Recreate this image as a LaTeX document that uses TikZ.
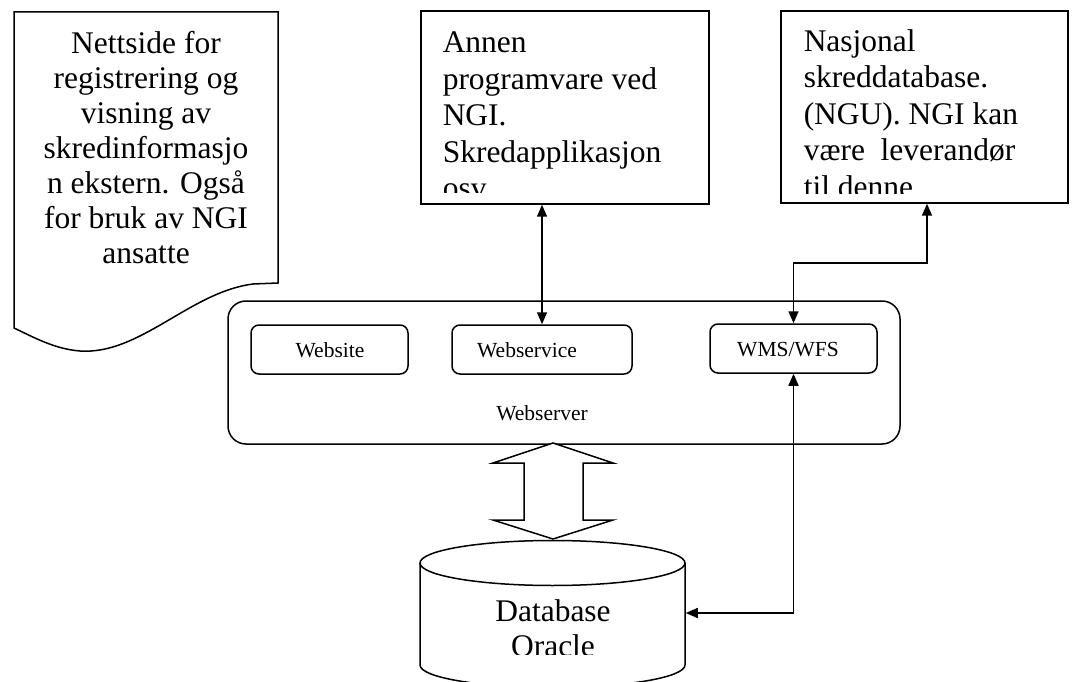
\documentclass[tikz,border=0pt]{standalone}
\usepackage{fontspec}
\setmainfont{Liberation Serif}
\usetikzlibrary{arrows.meta}
\begin{document}
\begin{tikzpicture}[x=1pt,y=-1pt,
  line width=1.5pt,
  big/.style={font=\fontsize{31.5}{35}\selectfont, inner sep=0pt},
  boxtext/.style={font=\fontsize{31.5}{36.5}\selectfont, inner sep=0pt, align=left, anchor=north west},
  small/.style={font=\fontsize{21.5}{25}\selectfont, inner sep=0pt},
  sq/.style={draw, rectangle, inner sep=0pt, fill=white},
  rbox/.style={draw, rectangle, rounded corners=8pt, inner sep=0pt},
  ghost/.style={rectangle, inner sep=0pt},
  link/.style={{Triangle[length=12pt,width=10pt]}-{Triangle[length=12pt,width=10pt]}},
  hollow/.style={draw, fill=white, line join=miter}
]
\useasboundingbox (0,0) rectangle (1072,682);

% document shape (left)
\draw[fill=white] (14,12) -- (278,12) -- (278,283) -- (253,284)
  .. controls (190,292) and (140,355) .. (80,351)
  .. controls (55,349) and (35,338) .. (14,328) -- cycle;
\node[big, align=center, anchor=north] (doctxt) at (146,31)
  {Nettside for\\registrering og\\visning av\\skredinformasjo\\n ekstern. Også\\for bruk av NGI\\ansatte};

% top boxes
\node[sq, minimum width=288, minimum height=193] (annen) at (565,107.5) {};
\node[sq, minimum width=287, minimum height=192] (nasjonal) at (924.5,107) {};
\begin{scope}
  \clip (421,11) rectangle (709,193);
  \node[boxtext] (annentxt) at (442,31)
    {Annen\\programvare ved\\NGI.\\Skredapplikasjon\\osv};
\end{scope}
\begin{scope}
  \clip (781,11) rectangle (1068,194);
  \node[boxtext] (nasjtxt) at (803,28.5)
    {Nasjonal\\skreddatabase.\\(NGU). NGI kan\\være\ \ leverandør\\til denne};
\end{scope}

% webserver
\node[draw, rectangle, rounded corners=18pt, inner sep=0pt, minimum width=672, minimum height=143] (webserver) at (564,372.5) {};
\node[small] (webserverlbl) at (542,413) {Webserver};
\node[rbox, minimum width=157, minimum height=49] (website) at (329.5,349.5) {};
\node[small] (websitelbl) at (330,350) {Website};
\node[rbox, minimum width=180, minimum height=49] (webservice) at (542,349.5) {};
\node[small] (webservicelbl) at (527,350) {Webservice};
\node[rbox, minimum width=167, minimum height=49] (wms) at (793.5,348.5) {};
\node[small] (wmslbl) at (788,350) {WMS/WFS};

% database cylinder
\draw[fill=white] (420,563) -- (420,665) arc[start angle=180, end angle=0, x radius=132.5, y radius=22.5] -- (685,563);
\draw (552.5,563) ellipse[x radius=132.5, y radius=22.5];
\node[ghost, minimum width=265, minimum height=150] (db) at (552.5,613) {};
\begin{scope}
  \clip (425,590) rectangle (680,654);
  \node[big, align=center] (dbtxt) at (553,628) {Database\\Oracle};
\end{scope}

% hollow double arrow
\draw[hollow] (553,443) -- (613,463) -- (583,463) -- (583,520) -- (613,520)
  -- (553,539) -- (493,520) -- (524,520) -- (524,463) -- (493,463) -- cycle;

% connectors
\coordinate (n1) at (927,263);
\draw[link] (webservice.north) -- (webservice.north |- annen.south);
\draw[link] (wms.north) |- (n1) -- (n1 |- nasjonal.south);
\draw[link] (wms.south) |- (db.east);
\end{tikzpicture}
\end{document}
